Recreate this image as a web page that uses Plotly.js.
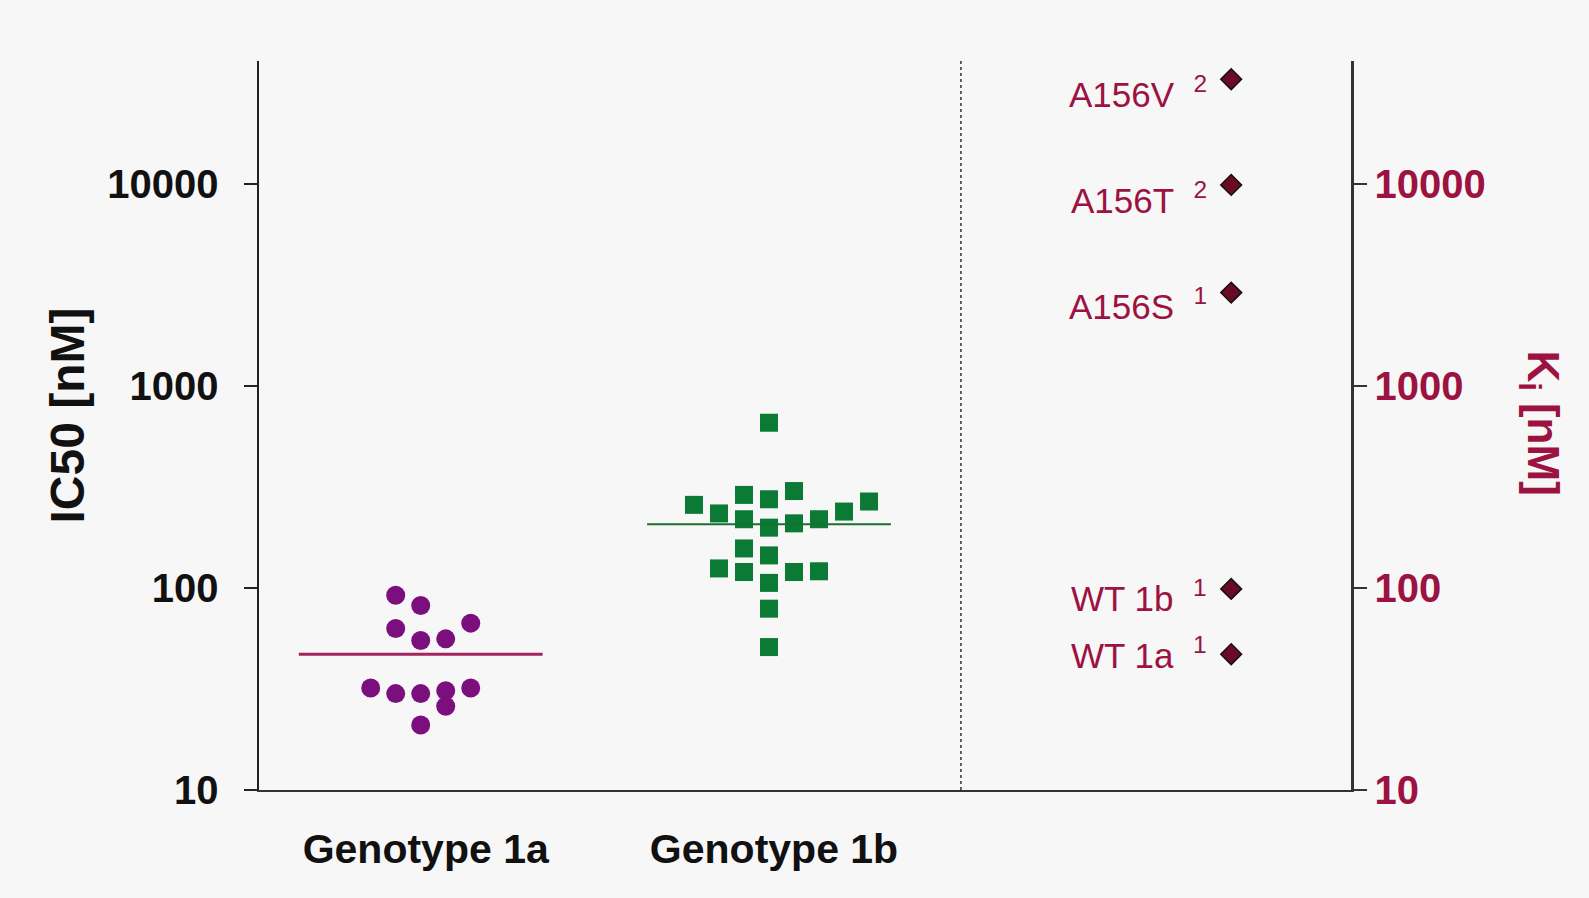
<!DOCTYPE html>
<html><head><meta charset="utf-8">
<script src="https://cdn.plot.ly/plotly-3.0.1.min.js"></script>
<style>html,body{margin:0;padding:0;background:#f7f7f7}#chart{width:1589px;height:898px}</style>
</head><body><div id="chart"></div>
<script>
// ---- data ----
const categories = ["Genotype 1a", "Genotype 1b"];
const g1aIC50 = [92, 82, 63, 55, 56, 67, 32, 30, 30, 31, 32, 26, 21];
const g1aSlot = [-1, 0, -1, 0, 1, 2, -2, -1, 0, 1, 2, 1, 0];
const g1bIC50 = [658, 258, 234, 289, 275, 302, 219, 199, 209, 219, 239, 268, 157, 145, 125, 120, 120, 121, 106, 79, 51];
const g1bSlot = [0, -3, -2, -1, 0, 1, -1, 0, 1, 2, 3, 4, -1, 0, -2, -1, 1, 2, 0, 0, 0];
const meanIC50 = [47, 207];
const kiLabels = ["A156V", "A156T", "A156S", "WT 1b", "WT 1a"];
const kiRefs = ["2", "2", "1", "1", "1"];
const kiValues = [33000, 9900, 2900, 99, 47];
const yTickVals = [10, 100, 1000, 10000];
const yTickText = ["10", "100", "1000", "10000"];

// ---- layout constants ----
const SLOT = 0.0718, HALF = 0.35, KI_X = 3.327, DIV_X = 2.551;
const labelYShift = [-13, -13, -11, -7, 1];
const crimson = "#9c1240";
const FONT = "Arial, 'Liberation Sans', Helvetica, sans-serif";
const yRange = [1, 4.609];

const traces = [
  {x: g1aSlot.map(s => 1 + s * SLOT), y: g1aIC50, type: "scatter", mode: "markers",
   marker: {symbol: "circle", size: 19, color: "#7c0f7e"}, yaxis: "y", hoverinfo: "y"},
  {x: [1 - HALF, 1 + HALF], y: [meanIC50[0], meanIC50[0]], type: "scatter", mode: "lines",
   line: {color: "#a3245e", width: 3}, yaxis: "y", hoverinfo: "y"},
  {x: g1bSlot.map(s => 2 + s * SLOT), y: g1bIC50, type: "scatter", mode: "markers",
   marker: {symbol: "square", size: 18, color: "#0b7a34"}, yaxis: "y", hoverinfo: "y"},
  {x: [2 - HALF, 2 + HALF], y: [meanIC50[1], meanIC50[1]], type: "scatter", mode: "lines",
   line: {color: "#1b6e2c", width: 2}, yaxis: "y", hoverinfo: "y"},
  {x: kiValues.map(() => KI_X), y: kiValues, type: "scatter", mode: "markers",
   marker: {symbol: "diamond", size: 16, color: "#6a0a25", line: {color: "#111", width: 1.5}},
   yaxis: "y2", text: kiLabels, hoverinfo: "text+y"}
];

const annotations = kiLabels.map((t, i) => ({
  text: t + "\u00a0\u00a0<sup>" + kiRefs[i] + "</sup>",
  x: KI_X, y: Math.log10(kiValues[i]), xref: "x", yref: "y2",
  xanchor: "right", yanchor: "middle", xshift: -22, yshift: labelYShift[i],
  showarrow: false, font: {family: FONT, size: 35, color: crimson}
}));
annotations.push({
  text: "<b>K<sub>i</sub> [nM]</b>", xref: "paper", yref: "paper",
  x: 1.173, y: 0.503, xanchor: "center", yanchor: "middle", textangle: 90,
  showarrow: false, font: {family: FONT, size: 44, color: crimson}
});
annotations.push({
  text: "<b>IC50 [nM]</b>", xref: "paper", yref: "paper",
  x: -0.1754, y: 0.5144, xanchor: "center", yanchor: "middle", textangle: -90,
  showarrow: false, font: {family: FONT, size: 48, color: "#111"}
});

const layout = {
  width: 1589, height: 898,
  margin: {l: 259, r: 238, t: 61, b: 108},
  paper_bgcolor: "#f7f7f7", plot_bgcolor: "#f7f7f7",
  showlegend: false,
  font: {family: FONT},
  xaxis: {
    range: [0.5357, 3.671], tickvals: [1, 2], ticktext: categories,
    showgrid: false, zeroline: false, showline: true, linecolor: "#333", linewidth: 2,
    ticks: "", ticklabelstandoff: 22, ticklabelshift: 5,
    tickfont: {family: FONT, size: 41, color: "#111", weight: "bold"}
  },
  yaxis: {
    type: "log", range: yRange, tickvals: yTickVals, ticktext: yTickText,
    showgrid: false, zeroline: false, showline: true, linecolor: "#222", linewidth: 2.5,
    ticks: "outside", ticklen: 13, tickwidth: 2, tickcolor: "#222",
    ticklabelstandoff: 17,
    tickfont: {family: FONT, size: 40, color: "#111", weight: "bold"}
  },
  yaxis2: {
    type: "log", range: yRange, overlaying: "y", side: "right",
    tickvals: yTickVals, ticktext: yTickText,
    showgrid: false, zeroline: false, showline: true, linecolor: "#333", linewidth: 2.5,
    ticks: "outside", ticklen: 13, tickwidth: 2, tickcolor: "#333",
    ticklabelstandoff: 0,
    tickfont: {family: FONT, size: 40, color: crimson, weight: "bold"}
  },
  shapes: [{type: "line", xref: "x", yref: "paper", x0: DIV_X, x1: DIV_X, y0: 0, y1: 1,
            line: {color: "#333", width: 1.5, dash: "dot"}}],
  annotations: annotations
};

Plotly.newPlot("chart", traces, layout, {displayModeBar: false, staticPlot: true});
</script></body></html>
